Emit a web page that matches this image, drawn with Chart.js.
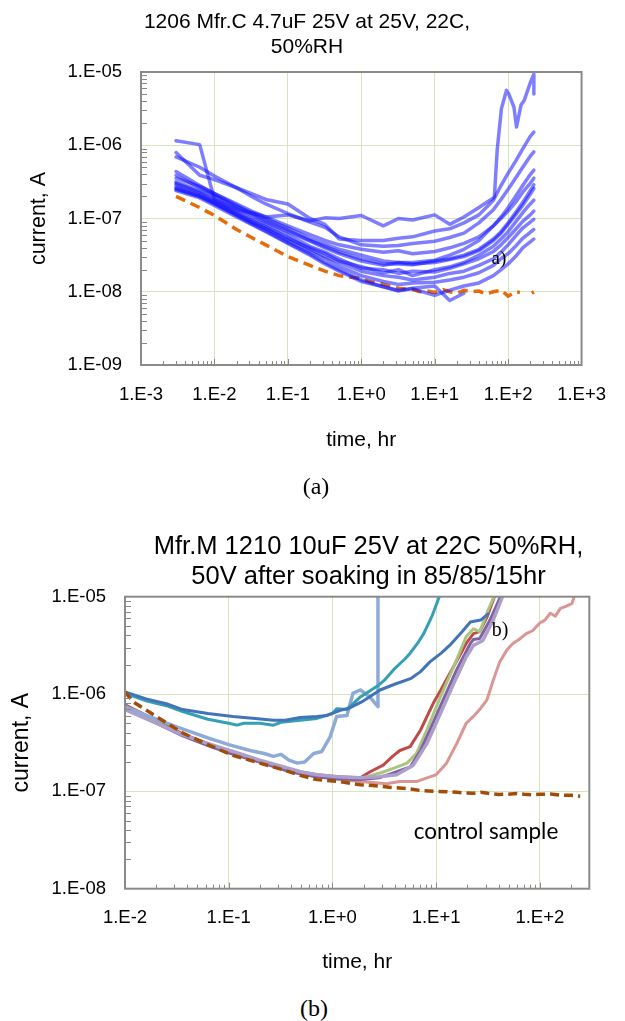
<!DOCTYPE html>
<html>
<head>
<meta charset="utf-8">
<script src="https://cdn.jsdelivr.net/npm/chart.js@4.4.1/dist/chart.umd.min.js"></script>
<style>
html,body{margin:0;padding:0;background:#fff;}
body{width:625px;height:1021px;position:relative;overflow:hidden;font-family:"Liberation Sans",Arial,sans-serif;color:#000;}
canvas{position:absolute;left:0;}
.t{position:absolute;text-align:center;white-space:nowrap;z-index:2;}
.c{position:absolute;white-space:nowrap;z-index:2;transform:translate(-50%,-50%);line-height:1.2;}
</style>
</head>
<body>
<canvas id="chartA" width="625" height="470" style="top:0px"></canvas>
<canvas id="chartB" width="625" height="490" style="top:500px"></canvas>

<div class="t" style="left:0;width:614px;top:7.5px;font-size:21px;line-height:25px;">1206 Mfr.C 4.7uF 25V at 25V, 22C,<br>50%RH</div>
<div class="c" style="left:499px;top:258px;font-family:'Liberation Serif',serif;font-size:19px;">a)</div>
<div class="c" style="left:316px;top:486px;font-family:'Liberation Serif',serif;font-size:24px;">(a)</div>

<div class="t" style="left:112px;width:513px;top:530px;font-size:25.5px;line-height:30px;">Mfr.M 1210 10uF 25V at 22C 50%RH,<br>50V after soaking in 85/85/15hr</div>
<div class="c" style="left:500px;top:629px;font-family:'Liberation Serif',serif;font-size:20px;">b)</div>
<div class="c" style="left:486px;top:830px;font-family:Lato,'Open Sans',sans-serif;font-size:22.5px;">control sample</div>
<div class="c" style="left:314px;top:1008px;font-family:'Liberation Serif',serif;font-size:24px;">(b)</div>

<script>
// ---------------- Chart (a): 1206 Mfr.C 4.7uF ----------------
const xTicksA = [1e-3, 1e-2, 1e-1, 1, 10, 100, 1000];
const xTickLabelsA = ['1.E-3', '1.E-2', '1.E-1', '1.E+0', '1.E+1', '1.E+2', '1.E+3'];
const yTicksA = [1e-9, 1e-8, 1e-7, 1e-6, 1e-5];
const yTickLabelsA = ['1.E-09', '1.E-08', '1.E-07', '1.E-06', '1.E-05'];

const timeA = [0.003, 0.0063, 0.01, 0.02, 0.032, 0.05, 0.1, 0.2, 0.32, 0.5, 1, 2, 3.2, 5, 10, 16, 25, 40, 63, 80, 100, 126, 158, 200, 224];
const timeA01 = [0.003, 0.0063, 0.01, 0.02, 0.032, 0.05, 0.1, 0.2, 0.32, 0.5, 1, 2, 3.2, 5, 10, 16, 25, 40, 63, 65, 71, 81, 95, 102, 120, 130, 150, 165, 200, 224, 224];
const currentA01 = [1.15e-6, 1.02e-6, 1.82e-7, 1.32e-7, 1.20e-7, 1.05e-7, 1.12e-7, 9.33e-8, 1.02e-7, 1.0e-7, 1.10e-7, 7.94e-8, 1.0e-7, 9.55e-8, 1.12e-7, 8.32e-8, 1.05e-7, 1.41e-7, 1.91e-7, 2.0e-7, 8.71e-7, 3.16e-6, 5.62e-6, 5.01e-6, 3.31e-6, 1.78e-6, 3.55e-6, 4.07e-6, 7.08e-6, 9.33e-6, 5.01e-6];
const currentA02 = [7.94e-7, 3.89e-7, 3.39e-7, 2.63e-7, 2.19e-7, 1.82e-7, 1.58e-7, 1.0e-7, 8.32e-8, 5.25e-8, 5.01e-8, 5.01e-8, 5.37e-8, 5.62e-8, 6.76e-8, 7.24e-8, 8.71e-8, 1.12e-7, 1.78e-7, 2.82e-7, 4.17e-7, 6.03e-7, 8.91e-7, 1.32e-6, 1.51e-6];
const currentA03 = [6.92e-7, 5.01e-7, 3.80e-7, 2.63e-7, 2.00e-7, 1.58e-7, 1.17e-7, 8.91e-8, 7.59e-8, 5.62e-8, 4.37e-8, 4.17e-8, 4.27e-8, 4.57e-8, 4.90e-8, 5.50e-8, 6.31e-8, 8.71e-8, 1.32e-7, 1.82e-7, 2.51e-7, 3.55e-7, 5.01e-7, 7.08e-7, 8.13e-7];
const currentA04 = [4.37e-7, 2.82e-7, 2.19e-7, 1.51e-7, 1.20e-7, 1.0e-7, 7.41e-8, 5.37e-8, 4.47e-8, 3.80e-8, 3.16e-8, 2.63e-8, 2.51e-8, 2.51e-8, 2.69e-8, 3.16e-8, 3.80e-8, 5.01e-8, 7.94e-8, 1.05e-7, 1.41e-7, 2.00e-7, 2.82e-7, 3.98e-7, 4.57e-7];
const currentA05 = [3.89e-7, 2.63e-7, 2.09e-7, 1.45e-7, 1.15e-7, 9.33e-8, 6.92e-8, 5.01e-8, 4.17e-8, 3.47e-8, 2.82e-8, 2.40e-8, 2.40e-8, 2.34e-8, 2.63e-8, 2.82e-8, 3.16e-8, 3.80e-8, 5.25e-8, 6.61e-8, 8.71e-8, 1.20e-7, 1.66e-7, 2.40e-7, 2.88e-7];
const currentA06 = [3.16e-7, 2.40e-7, 2.00e-7, 1.38e-7, 1.10e-7, 8.91e-8, 6.61e-8, 4.90e-8, 3.98e-8, 3.31e-8, 2.63e-8, 2.29e-8, 2.51e-8, 2.40e-8, 2.51e-8, 2.75e-8, 3.02e-8, 3.63e-8, 5.01e-8, 6.31e-8, 8.32e-8, 1.12e-7, 1.51e-7, 2.14e-7, 2.57e-7];
const currentA07 = [3.02e-7, 2.29e-7, 1.82e-7, 1.26e-7, 1.0e-7, 8.32e-8, 6.03e-8, 4.17e-8, 3.47e-8, 2.82e-8, 2.09e-8, 2.00e-8, 1.78e-8, 1.91e-8, 1.86e-8, 2.09e-8, 2.40e-8, 2.82e-8, 3.55e-8, 4.37e-8, 5.50e-8, 7.08e-8, 9.12e-8, 1.12e-7, 1.26e-7];
const currentA08 = [2.88e-7, 2.19e-7, 1.74e-7, 1.20e-7, 9.55e-8, 7.76e-8, 5.50e-8, 3.80e-8, 3.02e-8, 2.51e-8, 1.91e-8, 1.66e-8, 1.58e-8, 1.45e-8, 1.58e-8, 1.78e-8, 1.91e-8, 2.29e-8, 2.82e-8, 3.47e-8, 4.37e-8, 5.75e-8, 7.41e-8, 8.91e-8, 9.77e-8];
const currentA09 = [2.69e-7, 2.09e-7, 1.66e-7, 1.15e-7, 8.91e-8, 7.24e-8, 5.01e-8, 3.55e-8, 2.82e-8, 2.24e-8, 1.66e-8, 1.38e-8, 1.26e-8, 1.32e-8, 1.35e-8, 1.45e-8, 1.58e-8, 1.82e-8, 2.29e-8, 2.82e-8, 3.31e-8, 4.17e-8, 5.37e-8, 6.46e-8, 7.08e-8];
const currentA10 = [2.57e-7, 2.00e-7, 1.58e-7, 1.10e-7, 8.51e-8, 6.76e-8, 4.68e-8, 3.31e-8, 2.51e-8, 2.00e-8, 1.45e-8, 1.17e-8, 1.05e-8, 1.10e-8, 8.91e-9, 1.05e-8, 1.20e-8, 1.32e-8, 1.66e-8, 2.00e-8, 2.40e-8, 3.02e-8, 3.98e-8, 4.79e-8, 5.25e-8];
const currentA11 = [2.40e-7, 1.91e-7, 1.51e-7, 1.05e-7, 8.32e-8, 6.61e-8, 4.57e-8, 3.16e-8, 2.40e-8, 1.91e-8, 1.38e-8, 1.17e-8, 1.02e-8, 1.12e-8, 1.20e-8, 7.59e-9, 9.55e-9];
const currentA12 = [3.55e-7, 2.75e-7, 2.19e-7, 1.58e-7, 1.26e-7, 1.05e-7, 7.94e-8, 6.03e-8, 5.01e-8, 4.37e-8, 3.80e-8, 3.47e-8, 3.63e-8, 3.31e-8, 3.55e-8, 3.98e-8, 4.57e-8, 5.62e-8, 7.94e-8, 1.0e-7, 1.26e-7, 1.66e-7, 2.29e-7, 3.02e-7, 3.55e-7];
const currentA13 = [2.51e-7, 2.00e-7, 1.62e-7, 1.12e-7, 8.91e-8, 7.41e-8, 5.25e-8, 3.98e-8, 3.31e-8, 2.63e-8, 2.19e-8, 1.82e-8, 2.00e-8, 1.66e-8, 2.00e-8, 2.19e-8, 2.51e-8, 3.16e-8, 4.17e-8, 5.25e-8, 6.61e-8, 8.91e-8, 1.20e-7, 1.58e-7, 1.78e-7];

const timeControlA = [0.003, 0.0063, 0.01, 0.02, 0.032, 0.05, 0.1, 0.2, 0.32, 0.5, 1, 1.3, 2, 3.2, 5, 6.3, 8, 10, 13, 16, 20, 25, 32, 40, 50, 63, 80, 100, 126, 145, 180, 210, 224];
const currentControlA = [2.0e-7, 1.41e-7, 1.10e-7, 7.08e-8, 5.50e-8, 4.37e-8, 3.02e-8, 2.29e-8, 1.91e-8, 1.66e-8, 1.51e-8, 1.38e-8, 1.26e-8, 1.12e-8, 1.07e-8, 1.0e-8, 1.02e-8, 9.77e-9, 1.07e-8, 1.0e-8, 9.55e-9, 1.05e-8, 1.0e-8, 1.02e-8, 9.33e-9, 1.0e-8, 1.05e-8, 8.71e-9, 1.0e-8, 9.8e-9, null, 9.55e-9, 1.0e-8];

// ---------------- Chart (b): Mfr.M 1210 10uF ----------------
const xTicksB = [1e-2, 1e-1, 1, 10, 100];
const xTickLabelsB = ['1.E-2', '1.E-1', '1.E+0', '1.E+1', '1.E+2'];
const yTicksB = [1e-8, 1e-7, 1e-6, 1e-5];
const yTickLabelsB = ['1.E-08', '1.E-07', '1.E-06', '1.E-05'];

const timeB_darkBlue = [0.01, 0.016, 0.025, 0.036, 0.063, 0.11, 0.18, 0.27, 0.35, 0.49, 0.71, 0.89, 1.17, 1.48, 2.0, 2.88, 3.98, 5.75, 7.08, 8.71, 11.2, 13.5, 17.8, 21.4, 26.9, 31.6];
const currentB_darkBlue = [1.05e-6, 8.91e-7, 7.94e-7, 6.92e-7, 6.31e-7, 5.89e-7, 5.62e-7, 5.37e-7, 5.37e-7, 5.75e-7, 5.89e-7, 6.03e-7, 6.76e-7, 7.24e-7, 8.51e-7, 1.10e-6, 1.26e-6, 1.45e-6, 1.70e-6, 2.14e-6, 2.63e-6, 3.16e-6, 4.37e-6, 5.50e-6, 5.75e-6, 6.61e-6];
const timeB_teal = [0.01, 0.016, 0.025, 0.036, 0.063, 0.1, 0.12, 0.14, 0.2, 0.27, 0.32, 0.49, 0.71, 1.0, 1.1, 1.38, 1.86, 2.69, 3.16, 3.89, 5.0, 5.62, 6.61, 7.59, 9.12, 11, 12.6];
const currentB_teal = [1.02e-6, 8.51e-7, 7.59e-7, 6.61e-7, 5.50e-7, 5.01e-7, 4.79e-7, 5.01e-7, 5.01e-7, 4.79e-7, 5.13e-7, 5.37e-7, 5.62e-7, 6.31e-7, 7.08e-7, 6.92e-7, 9.33e-7, 1.20e-6, 1.38e-6, 1.78e-6, 2.29e-6, 2.63e-6, 3.31e-6, 4.17e-6, 6.31e-6, 1.07e-5, 1.41e-5];
const timeB_lightBlue = [0.01, 0.016, 0.032, 0.063, 0.1, 0.16, 0.22, 0.27, 0.32, 0.38, 0.46, 0.54, 0.66, 0.79, 0.95, 1.1, 1.38, 1.58, 1.86, 2.29, 2.75, 2.75];
const currentB_lightBlue = [7.41e-7, 6.03e-7, 4.57e-7, 3.55e-7, 3.02e-7, 2.63e-7, 2.45e-7, 2.29e-7, 2.40e-7, 2.09e-7, 1.95e-7, 2.00e-7, 2.45e-7, 2.57e-7, 3.63e-7, 5.89e-7, 6.03e-7, 1.02e-6, 1.10e-6, 9.33e-7, 7.41e-7, 3.0e-5];
const timeB_red = [0.01, 0.02, 0.036, 0.063, 0.11, 0.2, 0.34, 0.5, 0.71, 1.12, 1.86, 2.29, 3.09, 3.8, 4.47, 5.62, 7.08, 9.33, 11.2, 13.5, 16.6, 19.5, 22.9, 26.3, 30.9, 38];
const currentB_red = [7.76e-7, 5.37e-7, 3.89e-7, 3.09e-7, 2.51e-7, 2.04e-7, 1.74e-7, 1.58e-7, 1.48e-7, 1.41e-7, 1.38e-7, 1.58e-7, 1.86e-7, 2.29e-7, 2.63e-7, 2.88e-7, 4.27e-7, 7.94e-7, 1.12e-6, 1.62e-6, 2.40e-6, 3.31e-6, 4.17e-6, 4.37e-6, 6.17e-6, 1.12e-5];
const timeB_green = [0.01, 0.02, 0.036, 0.063, 0.11, 0.2, 0.34, 0.5, 0.71, 1.12, 1.86, 3.09, 3.98, 5.25, 6.46, 8.13, 11, 14.8, 19.5, 22.9, 26.3, 31.6, 38];
const currentB_green = [7.24e-7, 5.13e-7, 3.80e-7, 3.02e-7, 2.45e-7, 2.00e-7, 1.70e-7, 1.55e-7, 1.45e-7, 1.38e-7, 1.35e-7, 1.58e-7, 1.74e-7, 1.95e-7, 2.45e-7, 4.27e-7, 9.33e-7, 1.91e-6, 3.89e-6, 4.68e-6, 4.37e-6, 7.24e-6, 1.12e-5];
const timeB_purple = [0.01, 0.02, 0.036, 0.063, 0.11, 0.2, 0.34, 0.5, 0.71, 1.12, 1.86, 2.82, 3.63, 5.62, 7.08, 8.71, 11.7, 15.8, 21.4, 22.9, 26.3, 33.1, 43.7];
const currentB_purple = [7.08e-7, 5.01e-7, 3.72e-7, 2.95e-7, 2.40e-7, 2.00e-7, 1.66e-7, 1.51e-7, 1.41e-7, 1.35e-7, 1.32e-7, 1.38e-7, 1.51e-7, 1.78e-7, 2.63e-7, 4.27e-7, 8.71e-7, 1.78e-6, 3.31e-6, 3.63e-6, 3.72e-6, 5.75e-6, 1.12e-5];
const timeB_lavender = [0.01, 0.02, 0.036, 0.063, 0.11, 0.2, 0.34, 0.5, 0.71, 1.12, 1.86, 2.82, 4.17, 6.03, 8.13, 11, 14.8, 19.5, 22.9, 28.2, 35.5, 44.7];
const currentB_lavender = [6.92e-7, 5.01e-7, 3.80e-7, 3.09e-7, 2.57e-7, 2.09e-7, 1.78e-7, 1.58e-7, 1.48e-7, 1.41e-7, 1.38e-7, 1.41e-7, 1.48e-7, 1.86e-7, 3.09e-7, 6.31e-7, 1.29e-6, 2.40e-6, 3.16e-6, 3.55e-6, 5.75e-6, 1.07e-5];
const timeB_pink = [0.01, 0.02, 0.036, 0.063, 0.11, 0.2, 0.34, 0.5, 0.71, 1.17, 1.86, 3.31, 4.47, 6.46, 8.71, 10, 12.6, 15.8, 19.5, 22.9, 26.3, 30.9, 35.5, 40.7, 47.9, 55, 63, 74.1, 85.1, 100, 112, 126, 141, 158, 178, 204, 219, 240];
const currentB_pink = [7.41e-7, 5.25e-7, 3.80e-7, 3.02e-7, 2.45e-7, 2.00e-7, 1.70e-7, 1.51e-7, 1.41e-7, 1.32e-7, 1.26e-7, 1.20e-7, 1.26e-7, 1.26e-7, 1.41e-7, 1.48e-7, 1.95e-7, 3.09e-7, 5.01e-7, 5.89e-7, 6.92e-7, 8.71e-7, 1.38e-6, 2.09e-6, 2.82e-6, 3.31e-6, 3.63e-6, 4.17e-6, 4.47e-6, 5.37e-6, 5.75e-6, 6.76e-6, 6.31e-6, 7.59e-6, 7.94e-6, 8.51e-6, 1.07e-5, 1.26e-5];
const timeB_control = [0.01, 0.012, 0.02, 0.036, 0.063, 0.11, 0.2, 0.34, 0.5, 0.71, 1.17, 1.86, 2.45, 3.55, 5.25, 7.08, 10, 12.6, 15.8, 19.5, 22.9, 27, 31.6, 40, 47.9, 60, 70.8, 85, 100, 126, 158, 200, 245];
const currentB_control = [1.05e-6, 8.32e-7, 5.89e-7, 3.98e-7, 3.02e-7, 2.34e-7, 1.95e-7, 1.66e-7, 1.45e-7, 1.32e-7, 1.26e-7, 1.17e-7, 1.15e-7, 1.10e-7, 1.07e-7, 1.02e-7, 1.0e-7, 9.9e-8, 9.77e-8, 9.6e-8, 9.55e-8, 9.8e-8, 9.55e-8, 9.3e-8, 9.33e-8, 9.5e-8, 9.33e-8, 9.2e-8, 9.33e-8, 9.4e-8, 9.12e-8, 9.1e-8, 8.91e-8];

// ---------------- helpers ----------------
function pairs(ts, vs) {
  return vs.map((v, i) => ({x: ts[i], y: v}));
}

Chart.defaults.font.family = '"Liberation Sans", Arial, sans-serif';
Chart.defaults.color = '#000';

const frameTicks = {
  id: 'frameTicks',
  afterDatasetsDraw(chart) {
    const {ctx, chartArea: a, scales} = chart;
    const x = scales.x, y = scales.y;
    ctx.save();
    ctx.strokeStyle = '#888888';
    ctx.lineWidth = 1;
    ctx.beginPath();
    const ye0 = Math.floor(Math.log10(y.min) + 1e-9), ye1 = Math.ceil(Math.log10(y.max) - 1e-9);
    for (let e = ye0; e < ye1; e++) {
      for (let k = 2; k <= 9; k++) {
        const v = k * Math.pow(10, e);
        if (v <= y.min || v >= y.max) continue;
        const py = Math.round(y.getPixelForValue(v)) + 0.5;
        ctx.moveTo(a.left, py); ctx.lineTo(a.left + 6, py);
      }
    }
    const xe0 = Math.floor(Math.log10(x.min) + 1e-9), xe1 = Math.ceil(Math.log10(x.max) - 1e-9);
    for (let e = xe0; e < xe1; e++) {
      for (let k = 1; k <= 9; k++) {
        const v = k * Math.pow(10, e);
        if (v <= x.min || v >= x.max) continue;
        const px = Math.round(x.getPixelForValue(v)) + 0.5;
        ctx.moveTo(px, a.bottom); ctx.lineTo(px, a.bottom - (k === 1 ? 6 : 4));
      }
    }
    ctx.stroke();
    ctx.lineWidth = 2;
    ctx.strokeStyle = '#8a8a8a';
    ctx.strokeRect(a.left, a.top, a.right - a.left, a.bottom - a.top);
    ctx.restore();
  }
};

function makeScales(cfg) {
  return {
    x: {
      type: 'logarithmic',
      min: cfg.xMin, max: cfg.xMax,
      afterBuildTicks: (s) => { s.ticks = cfg.xTicks.map(v => ({value: v})); },
      afterFit: (s) => { s.height = cfg.xHeight; },
      ticks: {
        autoSkip: false, maxRotation: 0, padding: cfg.xTickPad,
        font: {size: 18.5}, color: '#000',
        callback: (v, i) => cfg.xLabels[i]
      },
      grid: {color: '#d7e4bd', lineWidth: 1, drawTicks: false},
      border: {display: false},
      title: {display: true, text: 'time, hr', font: {size: 21}, color: '#000', padding: {top: 0, bottom: cfg.xTitlePad}}
    },
    y: {
      type: 'logarithmic',
      min: cfg.yMin, max: cfg.yMax,
      afterBuildTicks: (s) => { s.ticks = cfg.yTicks.map(v => ({value: v})); },
      afterFit: (s) => { s.width = cfg.yWidth; },
      ticks: {
        autoSkip: false, padding: cfg.yTickPad,
        font: {size: 18.5}, color: '#000',
        callback: (v, i) => cfg.yLabels[i]
      },
      grid: {color: '#d7e4bd', lineWidth: 1, drawTicks: false},
      border: {display: false},
      title: {display: true, text: 'current, A', font: {size: cfg.yTitleSize}, color: '#000', padding: {top: cfg.yTitlePad, bottom: 0}}
    }
  };
}

// ---------------- build chart (a) ----------------
const blueA = 'rgba(20,20,255,0.55)';
const curvesA = [currentA02, currentA03, currentA04, currentA05, currentA06, currentA07,
                 currentA08, currentA09, currentA10, currentA11, currentA12, currentA13];
function blueLine(ts, vs) {
  return {data: pairs(ts, vs), borderColor: blueA, borderWidth: 3.5, pointRadius: 0, tension: 0,
          borderJoinStyle: 'round', borderCapStyle: 'round', fill: false, order: 1};
}
const datasetsA = [blueLine(timeA01, currentA01)].concat(curvesA.map((c) => blueLine(timeA, c)));
datasetsA.push({
  data: pairs(timeControlA, currentControlA),
  borderColor: '#e46c0a', borderWidth: 3.5, borderDash: [10, 6], pointRadius: 0, tension: 0,
  borderCapStyle: 'butt', fill: false, order: 99, spanGaps: false
});

new Chart(document.getElementById('chartA'), {
  type: 'line',
  data: {datasets: datasetsA},
  options: {
    responsive: false, animation: false, devicePixelRatio: 1,
    layout: {padding: {top: 72, right: 36, bottom: 5, left: 0}},
    plugins: {legend: {display: false}, tooltip: {enabled: false}},
    scales: makeScales({
      xMin: 1e-3, xMax: 1e3, yMin: 1e-9, yMax: 1e-5,
      xTicks: xTicksA, xLabels: xTickLabelsA, yTicks: yTicksA, yLabels: yTickLabelsA,
      xHeight: 100, yWidth: 141, xTickPad: 19, yTickPad: 19, xTitlePad: 12.4,
      yTitleSize: 21.5, yTitlePad: 26
    })
  },
  plugins: [frameTicks]
});

// ---------------- build chart (b) ----------------
function lineB(ts, vs, color, w, order) {
  return {data: pairs(ts, vs), borderColor: color, borderWidth: w, pointRadius: 0, tension: 0,
          borderJoinStyle: 'round', borderCapStyle: 'round', fill: false, order: order};
}
const datasetsB = [
  lineB(timeB_pink, currentB_pink, '#d99694', 3, 6),
  lineB(timeB_red, currentB_red, '#be4b48', 3, 5),
  lineB(timeB_green, currentB_green, '#a9c47f', 3, 4),
  lineB(timeB_purple, currentB_purple, '#7f62a1', 3, 3),
  lineB(timeB_lavender, currentB_lavender, '#ad9fcc', 3.5, 2),
  lineB(timeB_lightBlue, currentB_lightBlue, '#8eaad6', 3.5, 2),
  lineB(timeB_darkBlue, currentB_darkBlue, '#4274b8', 3, 1),
  lineB(timeB_teal, currentB_teal, '#35a0b5', 3, 1),
  {data: pairs(timeB_control, currentB_control), borderColor: '#a04d0a', borderWidth: 3.5,
   borderDash: [9, 5], pointRadius: 0, tension: 0, borderCapStyle: 'butt', fill: false, order: 0}
];

new Chart(document.getElementById('chartB'), {
  type: 'line',
  data: {datasets: datasetsB},
  options: {
    responsive: false, animation: false, devicePixelRatio: 1,
    layout: {padding: {top: 96.7, right: 35.7, bottom: 11.3, left: 0}},
    plugins: {legend: {display: false}, tooltip: {enabled: false}},
    scales: makeScales({
      xMin: 1e-2, xMax: 300, yMin: 1e-8, yMax: 1e-5,
      xTicks: xTicksB, xLabels: xTickLabelsB, yTicks: yTicksB, yLabels: yTickLabelsB,
      xHeight: 90, yWidth: 125, xTickPad: 18.5, yTickPad: 19, xTitlePad: 4.1,
      yTitleSize: 23, yTitlePad: 8.2
    })
  },
  plugins: [frameTicks]
});
</script>
</body>
</html>
